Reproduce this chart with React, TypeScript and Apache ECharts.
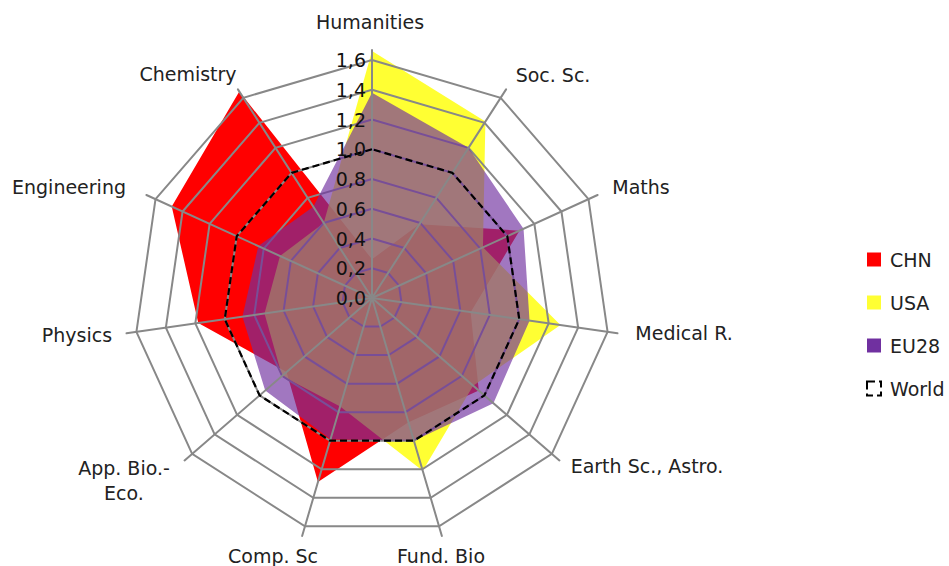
import React, { useEffect, useRef } from "react";
import * as echarts from "echarts";

// Categories listed clockwise from the top axis
const categories = [
  "Humanities",
  "Soc. Sc.",
  "Maths",
  "Medical R.",
  "Earth Sc., Astro.",
  "Fund. Bio",
  "Comp. Sc",
  "App. Bio.-\nEco.",
  "Physics",
  "Engineering",
  "Chemistry",
];
const seriesNames = ["CHN", "USA", "EU28", "World"];
const chn = [0.26, 0.59, 1.09, 0.67, 0.95, 0.87, 1.29, 0.76, 1.18, 1.48, 1.65];
const usa = [1.66, 1.41, 0.82, 1.28, 0.9, 1.21, 0.76, 0.8, 0.73, 0.68, 0.6];
const eu28 = [1.38, 1.2, 1.12, 1.07, 1.08, 1.0, 0.99, 0.95, 0.88, 0.84, 0.73];
const world = [1, 1, 1, 1, 1, 1, 1, 1, 1, 1, 1];
const axisMin = 0;
const axisMax = 1.6;
const axisStep = 0.2;

// Layout
const CX = 372;
const CY = 298;
const R_GRID = 238;
const R_SPOKE = 248;
const FONT = "DejaVu Sans";
const GRID_COLOR = "#888888";
const labelCenters: [number, number][] = [
  [370, 22],
  [553, 75],
  [641, 187],
  [684, 333],
  [647, 466],
  [441, 556],
  [273, 556],
  [124, 480],
  [77, 335],
  [69, 187],
  [188, 74],
];

// ECharts places indicators counter-clockwise; reorder so they run clockwise
const N = categories.length;
const order = categories.map((_, j) => (j === 0 ? 0 : N - j));
function reorder<T>(arr: T[]): T[] {
  return order.map((i) => arr[i]);
}

const splitNumber = Math.round((axisMax - axisMin) / axisStep);

function makeIndicators(withLabel: boolean) {
  return reorder(categories).map((name, j) => {
    const ind: any = { name, min: axisMin, max: axisMax };
    if (withLabel && j === 0) ind.axisLabel = { show: true };
    return ind;
  });
}

export default function App() {
  const ref = useRef<HTMLDivElement>(null);
  useEffect(() => {
    if (!ref.current) return;
    document.body.style.margin = "0";
    const chart = echarts.init(ref.current, undefined, { renderer: "svg" });

    const baseRadar = {
      center: [CX, CY],
      startAngle: 90,
      shape: "polygon",
      splitNumber,
      axisName: { show: false },
      axisTick: { show: false },
      axisLabel: { show: false },
      axisLine: { show: false },
      splitLine: { show: false },
      splitArea: { show: false },
    };

    const option: any = {
      animation: false,
      backgroundColor: "#ffffff",
      radar: [
        {
          ...baseRadar,
          radius: R_GRID,
          indicator: makeIndicators(false),
          splitLine: { show: true, lineStyle: { color: GRID_COLOR, width: 2 } },
          z: 3,
        },
        {
          ...baseRadar,
          radius: R_SPOKE,
          indicator: makeIndicators(false),
          axisLine: { show: true, lineStyle: { color: GRID_COLOR, width: 2 } },
          z: 5,
        },
        {
          ...baseRadar,
          radius: R_GRID,
          indicator: makeIndicators(true),
          axisLabel: {
            show: false,
            color: "#111",
            fontFamily: FONT,
            fontSize: 19,
            margin: 6,
            padding: [0, 0, 3, 0],
            formatter: (v: number) => v.toFixed(1).replace(".", ","),
          },
          z: 7,
        },
      ],
      legend: {
        orient: "vertical",
        left: 861,
        top: 245,
        itemWidth: 14,
        itemHeight: 14,
        itemGap: 24,
        selectedMode: false,
        textStyle: { fontFamily: FONT, fontSize: 19, color: "#222", padding: [0, 0, 0, 4] },
        data: [
          { name: seriesNames[0], icon: "rect", itemStyle: { color: "#ff0000", borderWidth: 0 } },
          { name: seriesNames[1], icon: "rect", itemStyle: { color: "#ffff33", borderWidth: 0 } },
          { name: seriesNames[2], icon: "rect", itemStyle: { color: "#7030a0", borderWidth: 0 } },
          {
            name: seriesNames[3],
            icon: "rect",
            itemStyle: { color: "#ffffff", borderColor: "#000000", borderWidth: 2, borderType: "dashed" },
          },
        ],
      },
      series: [
        {
          type: "radar",
          name: seriesNames[0],
          radarIndex: 0,
          z: 2,
          symbol: "none",
          itemStyle: { color: "#ff0000" },
          lineStyle: { width: 0 },
          areaStyle: { color: "#ff0000", opacity: 1 },
          data: [{ name: seriesNames[0], value: reorder(chn) }],
        },
        {
          type: "radar",
          name: seriesNames[1],
          radarIndex: 0,
          z: 2,
          symbol: "none",
          itemStyle: { color: "#ffff00" },
          lineStyle: { width: 0 },
          areaStyle: { color: "#ffff00", opacity: 0.8 },
          data: [{ name: seriesNames[1], value: reorder(usa) }],
        },
        {
          type: "radar",
          name: seriesNames[2],
          radarIndex: 0,
          z: 4,
          symbol: "none",
          itemStyle: { color: "#7030a0" },
          lineStyle: { width: 0 },
          areaStyle: { color: "#7030a0", opacity: 0.66 },
          data: [{ name: seriesNames[2], value: reorder(eu28) }],
        },
        {
          type: "radar",
          name: seriesNames[3],
          radarIndex: 0,
          z: 6,
          symbol: "none",
          itemStyle: { color: "#000000" },
          lineStyle: { color: "#000000", width: 2.2, type: [7, 4] },
          data: [{ name: seriesNames[3], value: reorder(world) }],
        },
      ],
      graphic: categories.map((name, i) => ({
        type: "text",
        x: labelCenters[i][0],
        y: labelCenters[i][1],
        z: 10,
        style: {
          text: name,
          fill: "#222",
          font: `19px "${FONT}"`,
          textAlign: "center",
          textVerticalAlign: "middle",
          align: "center",
          verticalAlign: "middle",
          lineHeight: 25,
        },
      })),
    };

    chart.setOption(option);
    return () => chart.dispose();
  }, []);

  return (
    <div
      ref={ref}
      style={{ position: "fixed", left: 0, top: 0, width: 949, height: 566 }}
    />
  );
}
